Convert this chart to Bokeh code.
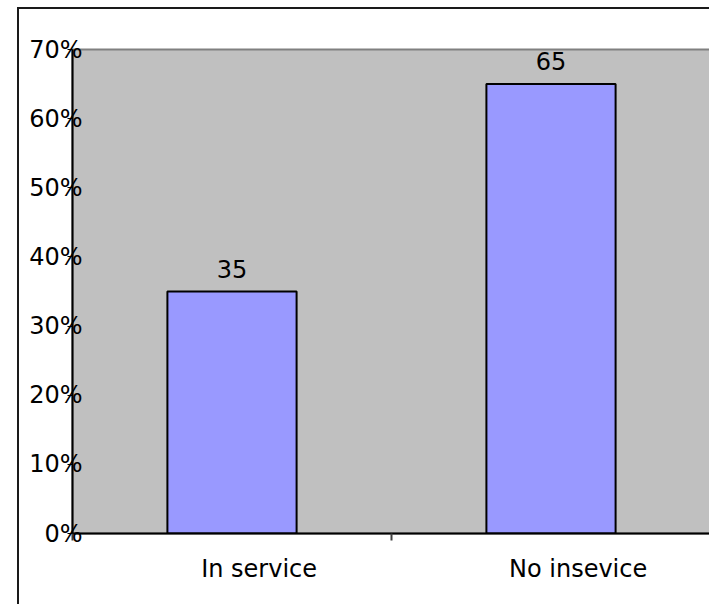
from bokeh.plotting import figure
from bokeh.models import Range1d, FixedTicker, LinearAxis, PrintfTickFormatter
from bokeh.core.properties import value
from bokeh.embed import file_html
from bokeh.resources import INLINE

# ---- data ----
categories = ["In service", "No insevice"]
percent_values = [35, 65]
y_ticks = [0, 10, 20, 30, 40, 50, 60, 70]
grid_ticks = [10, 20, 30, 40, 50, 60]

FONT = "DejaVu Sans"
FS = "24px"

n = len(categories)
centers = [i + 0.5 for i in range(n)]
boundaries = [float(i) for i in range(n + 1)]
label_shift = 0.085
label_pos = [c + label_shift for c in centers]

p = figure(width=692, height=597, output_backend="svg", toolbar_location=None,
           x_range=Range1d(0, n), y_range=Range1d(0, 70),
           x_axis_type=None, y_axis_type=None,
           min_border_left=53, min_border_right=1, min_border_top=40, min_border_bottom=73)
p.styles = {"margin-left": "17px", "margin-top": "7px",
            "border-left": "2px solid #1a1a1a", "border-top": "2px solid #1a1a1a"}

p.background_fill_color = "#C0C0C0"
p.border_fill_color = "white"
p.outline_line_color = "#808080"
p.outline_line_width = 2

# y axis
yax = LinearAxis(ticker=FixedTicker(ticks=y_ticks, minor_ticks=[]),
                 formatter=PrintfTickFormatter(format="%d%%"))
yax.axis_line_color = "black"
yax.axis_line_width = 2
yax.major_tick_out = 5
yax.major_tick_in = 0
yax.minor_tick_out = 0
yax.minor_tick_in = 0
yax.major_label_text_font = FONT
yax.major_label_text_font_size = FS
yax.major_label_text_color = "black"
yax.major_label_standoff = -15
p.add_layout(yax, "left")

# x axis
xax = LinearAxis(ticker=FixedTicker(ticks=label_pos, minor_ticks=boundaries))
xax.major_label_overrides = {pos: name for pos, name in zip(label_pos, categories)}
xax.axis_line_color = "black"
xax.axis_line_width = 2
xax.major_tick_out = 0
xax.major_tick_in = 0
xax.minor_tick_out = 7
xax.minor_tick_in = 0
xax.minor_tick_line_color = "#404040"
xax.minor_tick_line_width = 2
xax.major_label_text_font = FONT
xax.major_label_text_font_size = FS
xax.major_label_text_color = "black"
xax.major_label_standoff = 14
p.add_layout(xax, "below")

p.xgrid.visible = False
p.ygrid.ticker = FixedTicker(ticks=grid_ticks)
p.ygrid.grid_line_color = "black"
p.ygrid.grid_line_width = 1

p.vbar(x=centers, top=percent_values, width=0.405, bottom=0,
       fill_color="#9999FF", line_color="black", line_width=2)

p.text(x=centers, y=percent_values, text=[str(v) for v in percent_values],
       y_offset=-23, text_align="center", text_baseline="alphabetic",
       text_font=value(FONT), text_font_size=FS, text_color="black")

open("out.html", "w").write(file_html(p, INLINE))
